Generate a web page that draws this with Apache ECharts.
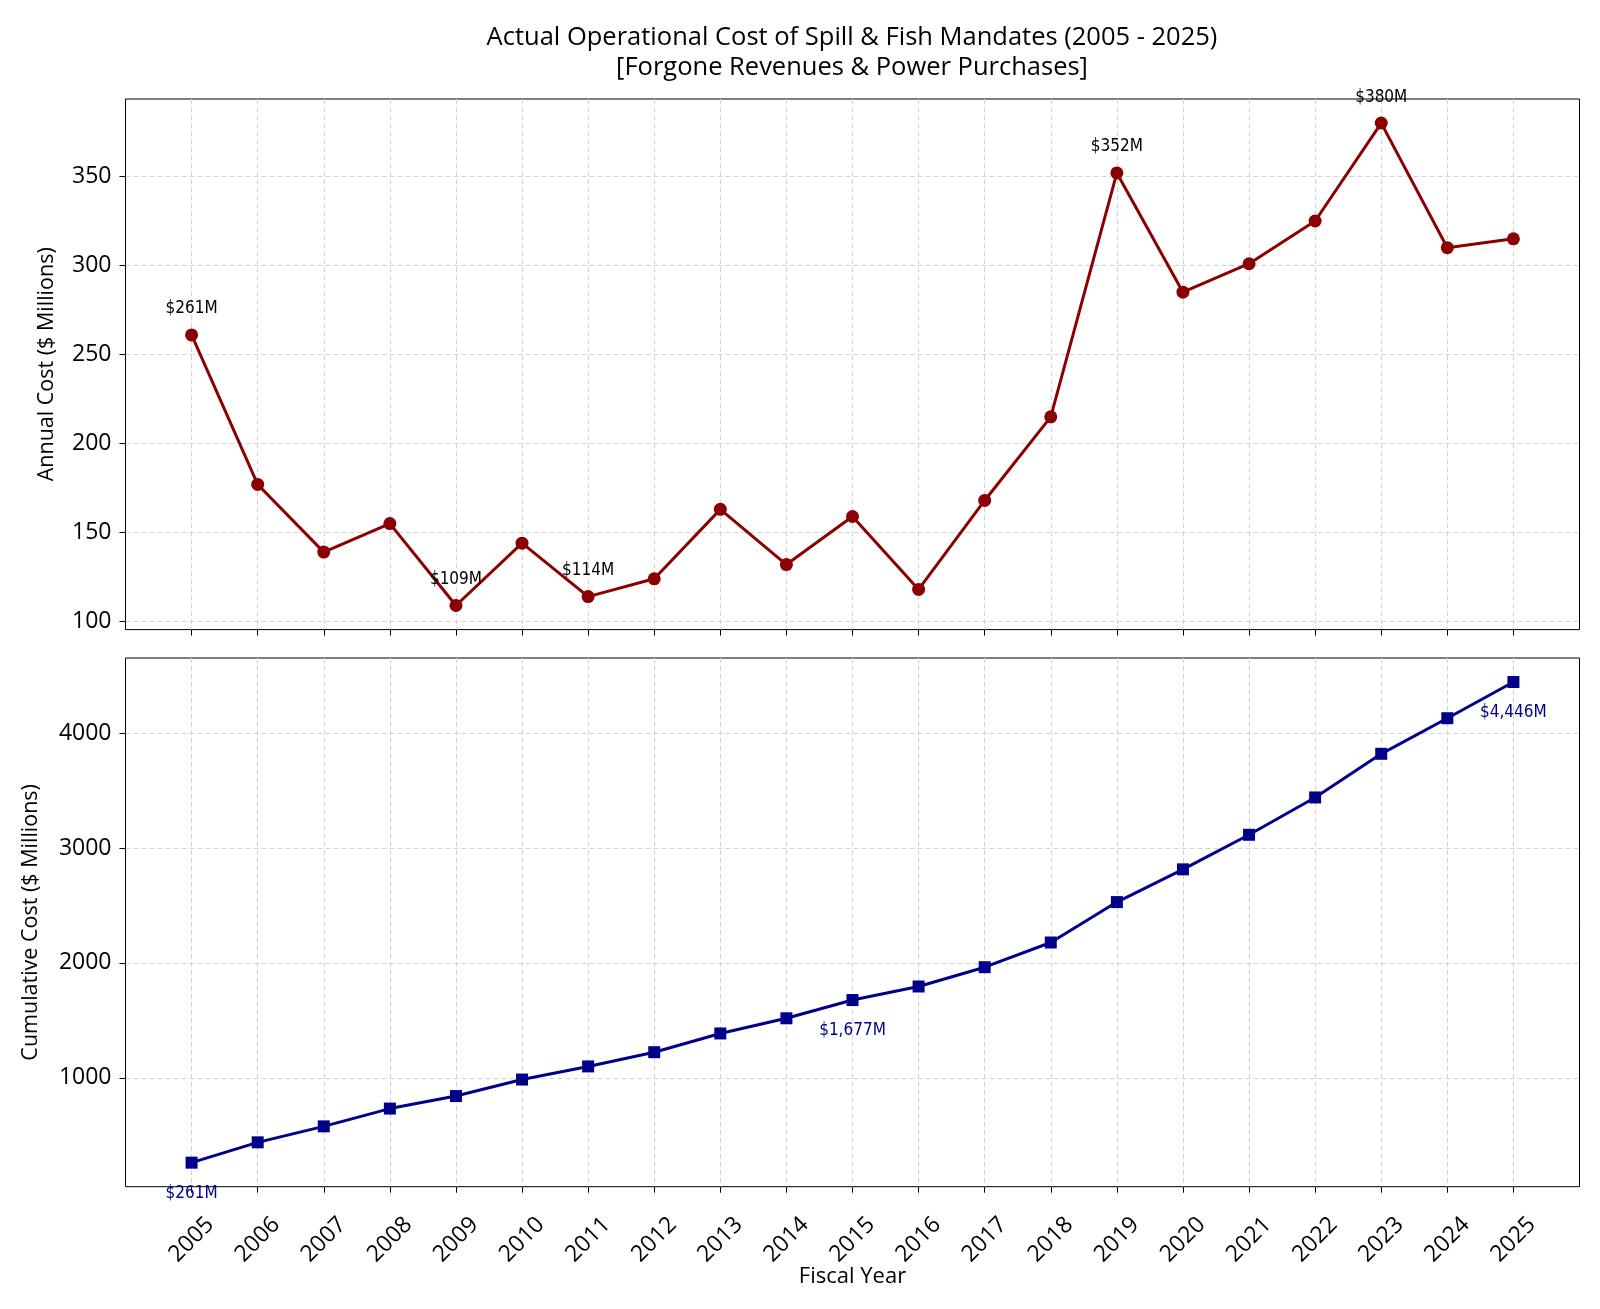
<!DOCTYPE html>
<html>
<head>
<meta charset="utf-8">
<script src="https://cdn.jsdelivr.net/npm/echarts@6/dist/echarts.min.js"></script>
<style>
  html, body { margin: 0; padding: 0; background: #fff; }
  #chart { width: 1600px; height: 1309px; }
</style>
</head>
<body>
<div id="chart"></div>
<script>
// fiscal years
var years = [2005, 2006, 2007, 2008, 2009, 2010, 2011, 2012, 2013, 2014, 2015,
             2016, 2017, 2018, 2019, 2020, 2021, 2022, 2023, 2024, 2025];
// annual cost ($ millions)
var annualCost = [261, 177, 139, 155, 109, 144, 114, 124, 163, 132, 159,
                  118, 168, 215, 352, 285, 301, 325, 380, 310, 315];
// cumulative cost ($ millions)
var cumulativeCost = [261, 438, 577, 732, 841, 985, 1099, 1223, 1386, 1518, 1677,
                      1795, 1963, 2178, 2530, 2815, 3116, 3441, 3821, 4131, 4446];
// years that carry a value note
var annualNotes = [2005, 2009, 2011, 2019, 2023];
var cumulativeNotes = [2005, 2015, 2025];
// tick labels
var annualTicks = [100, 150, 200, 250, 300, 350];
var cumulativeTicks = [1000, 2000, 3000, 4000];

var mainFont = '"Open Sans", Lato, sans-serif';
var noteFont = '"Liberation Sans Narrow", "DejaVu Sans Condensed", sans-serif';

function money(v) {
	return '$' + v.toString().replace(/\B(?=(\d{3})+(?!\d))/g, ',') + 'M';
}

function plain(v) {
	return String(v);
}

function buildData(values, notes, pos, dist, color) {
	var data = [];
	for (var i = 0; i < years.length; i++) {
		var item = { value: [years[i], values[i]] };
		if (notes.indexOf(years[i]) >= 0) {
			item.label = {
				show: true,
				position: pos,
				distance: dist,
				formatter: money(values[i]),
				color: color,
				fontFamily: noteFont,
				fontSize: 17
			};
		}
		data.push(item);
	}
	return data;
}

var gridLine = { show: true, lineStyle: { color: '#d3d3d3', type: [5, 3], width: 1 } };

var xCommon = function(idx, showLabels) {
	return {
		type: 'value',
		gridIndex: idx,
		min: 2004,
		max: 2026,
		axisLine: { show: false },
		axisTick: { show: true, customValues: years, length: 6, lineStyle: { color: '#000' } },
		axisLabel: {
			show: showLabels,
			customValues: years,
			formatter: plain,
			rotate: 45,
			align: 'center',
			verticalAlign: 'middle',
			margin: 53,
			fontSize: 23,
			color: '#000',
			fontFamily: mainFont
		},
		splitLine: gridLine
	};
};

var chart = echarts.init(document.getElementById('chart'));
var option = {
	backgroundColor: '#fff',
	animation: false,
	title: {
		text: 'Actual Operational Cost of Spill & Fish Mandates (2005 - 2025)\n[Forgone Revenues & Power Purchases]',
		left: 847,
		top: 18,
		textAlign: 'center',
		textStyle: {
			fontFamily: mainFont,
			fontSize: 25.5,
			fontWeight: 'normal',
			color: '#000',
			lineHeight: 30
		}
	},
	grid: [
		{ left: 125.5, right: 20.5, top: 99, height: 530.6, show: true, borderColor: '#000', borderWidth: 1 },
		{ left: 125.5, right: 20.5, top: 658, height: 528.7, show: true, borderColor: '#000', borderWidth: 1 }
	],
	xAxis: [
		xCommon(0, false),
		(function() {
			var a = xCommon(1, true);
			a.name = 'Fiscal Year';
			a.nameLocation = 'middle';
			a.nameGap = 79;
			a.nameMoveOverlap = false;
			a.nameTextStyle = { fontFamily: mainFont, fontSize: 22, color: '#000' };
			return a;
		})()
	],
	yAxis: [
		{
			type: 'value',
			gridIndex: 0,
			min: 95.45,
			max: 393.55,
			name: 'Annual Cost ($ Millions)',
			nameLocation: 'middle',
			nameGap: 68,
			nameTextStyle: { fontFamily: mainFont, fontSize: 21.5, color: '#000' },
			axisLine: { show: false },
			axisTick: { show: true, customValues: annualTicks, length: 6, lineStyle: { color: '#000' } },
			axisLabel: { customValues: annualTicks, formatter: plain, fontSize: 23, color: '#000', fontFamily: mainFont, margin: 14 },
			splitLine: gridLine
		},
		{
			type: 'value',
			gridIndex: 1,
			min: 51.75,
			max: 4655.25,
			name: 'Cumulative Cost ($ Millions)',
			nameLocation: 'middle',
			nameGap: 84,
			nameTextStyle: { fontFamily: mainFont, fontSize: 21.5, color: '#000' },
			axisLine: { show: false },
			axisTick: { show: true, customValues: cumulativeTicks, length: 6, lineStyle: { color: '#000' } },
			axisLabel: { customValues: cumulativeTicks, formatter: plain, fontSize: 23, color: '#000', fontFamily: mainFont, margin: 14 },
			splitLine: gridLine
		}
	],
	series: [
		{
			name: 'Annual Cost',
			type: 'line',
			xAxisIndex: 0,
			yAxisIndex: 0,
			data: buildData(annualCost, annualNotes, 'top', 11, '#000'),
			symbol: 'circle',
			symbolSize: 13,
			itemStyle: { color: '#8B0000' },
			lineStyle: { color: '#8B0000', width: 3 }
		},
		{
			name: 'Cumulative Cost',
			type: 'line',
			xAxisIndex: 1,
			yAxisIndex: 1,
			data: buildData(cumulativeCost, cumulativeNotes, 'bottom', 16, '#00008B'),
			symbol: 'rect',
			symbolSize: 12,
			itemStyle: { color: '#00008B' },
			lineStyle: { color: '#00008B', width: 3 }
		}
	]
};
chart.setOption(option);
</script>
</body>
</html>
